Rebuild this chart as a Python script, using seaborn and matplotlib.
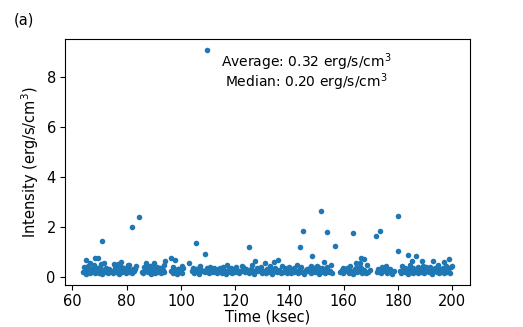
import matplotlib
matplotlib.use("Agg")
import matplotlib.pyplot as plt
import seaborn as sns
import pandas as pd

# low band, time in ksec
t_low = [
    64.0, 64.5, 65.0, 65.6, 66.1, 66.6, 67.2, 67.7, 68.3, 68.8, 69.4, 69.9, 70.5, 71.0, 71.6, 72.1, 72.7, 73.2, 73.8,
    75.0, 75.5, 76.1, 76.6, 77.2, 77.7, 78.3, 78.8, 79.4, 79.9, 80.5, 81.0, 81.6, 82.1, 82.7, 83.2,
    85.5, 86.0, 86.6, 87.1, 87.7, 88.2, 88.8, 89.3, 89.9, 90.4, 91.0, 91.5, 92.1, 92.6, 93.2, 93.7,
    96.3, 96.9, 97.4, 98.0, 98.5, 99.1, 99.6, 100.2,
    104.0, 104.7, 105.4, 106.1, 106.8, 107.5, 108.2, 108.9, 109.6, 110.3,
    111.0, 111.7, 112.4, 113.1, 113.8, 114.5, 115.2, 115.9, 116.6, 117.3,
    118.0, 118.7, 119.4, 120.1, 120.8, 121.5, 122.2, 122.9, 123.6, 124.3,
    125.0, 125.7, 126.4, 127.1, 127.8, 128.5, 129.2, 129.9, 130.6, 131.3,
    132.0, 132.7, 133.4, 134.1, 134.8, 135.5, 136.2, 136.9, 137.6, 138.3,
    139.0, 139.7, 140.4, 141.1, 141.8, 142.5, 143.2, 143.9, 144.6, 145.3,
    146.0, 146.7, 147.4, 148.1, 148.8, 149.5, 150.2, 150.9, 151.6, 152.3,
    153.0, 153.7, 154.4, 155.1, 155.8,
    158.5, 159.2, 159.9, 160.6, 161.3, 162.0, 162.7, 163.4, 164.1, 164.8, 165.5, 166.2, 166.9, 167.6, 168.3, 169.0, 169.7,
    172.3, 173.0, 173.7, 174.4, 175.1, 175.8, 176.5, 177.2, 177.9, 178.6,
    180.6, 181.2, 181.8, 182.4, 183.0, 183.6, 184.2, 184.8, 185.4, 186.0,
    186.6, 187.2, 187.8, 188.4, 189.0, 189.6, 190.2, 190.8, 191.4, 192.0,
    192.6, 193.2, 193.8, 194.4, 195.0, 195.6, 196.2, 196.8, 197.4, 198.0,
    198.6, 199.2, 199.8,
]
i_low = [
    0.18, 0.25, 0.12, 0.30, 0.20, 0.15, 0.22, 0.35, 0.14, 0.19, 0.28, 0.16, 0.24, 0.11, 0.20, 0.31, 0.17, 0.13, 0.22,
    0.15, 0.27, 0.20, 0.33, 0.12, 0.24, 0.18, 0.36, 0.22, 0.14, 0.29, 0.19, 0.25, 0.13, 0.21, 0.30,
    0.20, 0.14, 0.32, 0.23, 0.17, 0.38, 0.12, 0.26, 0.21, 0.15, 0.34, 0.19, 0.24, 0.13, 0.28, 0.18,
    0.22, 0.15, 0.31, 0.18, 0.12, 0.26, 0.20, 0.16,
    0.21, 0.15, 0.30, 0.18, 0.12, 0.26, 0.22, 0.17, 0.33, 0.14,
    0.24, 0.19, 0.28, 0.13, 0.21, 0.35, 0.16, 0.23, 0.11, 0.27,
    0.20, 0.15, 0.31, 0.18, 0.25, 0.13, 0.22, 0.38, 0.17, 0.24,
    0.14, 0.29, 0.19, 0.12, 0.26, 0.21, 0.34, 0.16, 0.23, 0.15,
    0.28, 0.18, 0.12, 0.30, 0.22, 0.17, 0.25, 0.14, 0.20, 0.33,
    0.16, 0.24, 0.13, 0.27, 0.19, 0.22, 0.15, 0.31, 0.18, 0.12,
    0.26, 0.21, 0.36, 0.14, 0.23, 0.17, 0.29, 0.12, 0.20, 0.25,
    0.15, 0.32, 0.18, 0.22, 0.13,
    0.19, 0.27, 0.14, 0.22, 0.33, 0.16, 0.24, 0.12, 0.29, 0.18, 0.21, 0.36, 0.15, 0.25, 0.13, 0.20, 0.28,
    0.17, 0.25, 0.13, 0.30, 0.21, 0.15, 0.27, 0.19, 0.12, 0.23,
    0.22, 0.14, 0.31, 0.18, 0.26, 0.12, 0.35, 0.20, 0.16, 0.28,
    0.23, 0.13, 0.30, 0.19, 0.25, 0.15, 0.37, 0.21, 0.17, 0.27,
    0.12, 0.24, 0.32, 0.18, 0.14, 0.29, 0.22, 0.16, 0.34, 0.20,
    0.26, 0.13, 0.41,
]

# upper part of the band
t_mid = [
    64.3, 65.8, 67.0, 68.0, 69.1, 70.2, 72.4, 73.5, 75.8, 77.0,
    78.0, 79.1, 80.8, 82.4, 83.5, 86.3, 87.4, 88.5, 89.6, 91.2,
    92.8, 93.9, 97.1, 98.8, 100.5, 104.4, 105.9, 107.2, 110.6, 112.0,
    113.5, 115.6, 117.0, 118.4, 120.4, 122.6, 124.0, 126.0, 128.2, 129.5,
    131.6, 133.0, 134.6, 137.2, 138.7, 140.0, 141.5, 142.9, 144.2, 146.4,
    147.8, 149.2, 150.6, 152.0, 154.0, 155.4, 159.6, 161.0, 162.4, 164.4,
    165.9, 168.7, 172.7, 174.1, 175.5, 176.9, 181.5, 182.7, 184.5, 185.7,
    187.5, 189.3, 190.5, 191.7, 193.5, 194.7, 196.5, 197.7, 199.5,
]
i_mid = [
    0.38, 0.42, 0.30, 0.45, 0.33, 0.40, 0.36, 0.29, 0.44, 0.31,
    0.39, 0.34, 0.47, 0.32, 0.41, 0.37, 0.30, 0.43, 0.35, 0.40,
    0.33, 0.46, 0.38, 0.31, 0.42, 0.36, 0.29, 0.44, 0.40, 0.34,
    0.31, 0.39, 0.45, 0.33, 0.37, 0.42, 0.30, 0.48, 0.35, 0.38,
    0.32, 0.41, 0.36, 0.44, 0.30, 0.39, 0.34, 0.46, 0.37, 0.31,
    0.43, 0.35, 0.40, 0.33, 0.38, 0.45, 0.36, 0.31, 0.42, 0.34,
    0.39, 0.47, 0.32, 0.37, 0.43, 0.30, 0.41, 0.35, 0.46, 0.33,
    0.38, 0.44, 0.31, 0.40, 0.36, 0.48, 0.34, 0.42, 0.39,
]

# points above the band
t_high = [65.1, 66.6, 68.2, 69.4, 70.6, 70.9, 71.8, 75.5, 76.7, 77.9, 80.3, 81.9, 84.7,
          87.1, 90.1, 92.2, 94.2, 96.3, 97.7, 99.0, 100.8, 103.0, 105.7, 106.3, 108.7, 109.3, 109.5,
          125.2, 127.4, 131.1, 134.4, 135.9, 143.7, 145.1, 148.2, 150.2, 151.7, 152.8, 153.8, 156.7,
          163.3, 164.5, 166.1, 166.3, 167.6, 171.8, 173.2, 179.9, 179.9,
          183.8, 185.3, 186.6, 188.7, 193.0, 197.0, 198.7]
i_high = [0.68, 0.53, 0.76, 0.76, 0.52, 1.44, 0.53, 0.49, 0.52, 0.59, 0.45, 1.99, 2.41,
          0.56, 0.56, 0.35, 0.63, 0.76, 0.69, 0.29, 0.36, 0.55, 1.35, 0.32, 0.92, 0.28, 9.10,
          1.20, 0.63, 0.56, 0.61, 0.68, 1.19, 1.83, 0.85, 0.43, 2.65, 0.61, 1.81, 1.25,
          1.77, 0.55, 0.55, 0.76, 0.72, 1.65, 1.85, 2.45, 1.05,
          0.87, 0.63, 0.84, 0.65, 0.64, 0.57, 0.72]

df = pd.DataFrame({"time": t_low + t_mid + t_high,
                   "intensity": i_low + i_mid + i_high})

fig = plt.figure(figsize=(5.23, 3.27), dpi=100)
ax = fig.add_axes([0.124, 0.128, 0.775, 0.753])
sns.scatterplot(data=df, x="time", y="intensity", ax=ax, color="#1f77b4", s=16, linewidth=0)

ax.set_xticks([60, 80, 100, 120, 140, 160, 180, 200])
ax.set_yticks([0, 2, 4, 6, 8])
ax.tick_params(labelsize=10.5, pad=3)
ax.set_xlabel("Time (ksec)", fontsize=10.5, labelpad=0)
ax.set_ylabel("Intensity (erg/s/cm$^3$)", fontsize=10.5)
ax.text(0.595, 0.904, "Average: 0.32 erg/s/cm$^3$",
        transform=ax.transAxes, ha="center", va="center", fontsize=10)
ax.text(0.595, 0.824, "Median: 0.20 erg/s/cm$^3$",
        transform=ax.transAxes, ha="center", va="center", fontsize=10)
fig.text(0.027, 0.925, "(a)", fontsize=10.5)

fig.savefig("out.png", dpi=100)
